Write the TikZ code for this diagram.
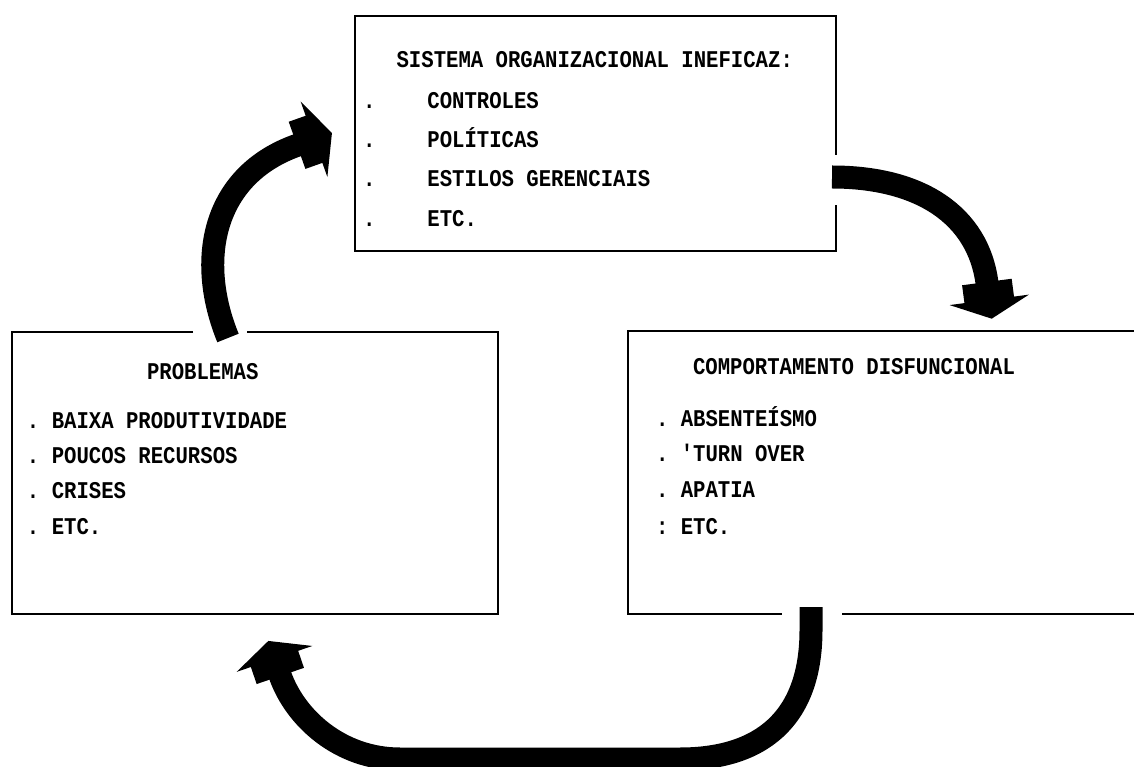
\documentclass[tikz,border=0pt]{standalone}
\usepackage{fontspec}
\setmonofont{Liberation Mono}[FakeStretch=0.86]
\usetikzlibrary{calc}
\tikzset{
  panel/.style={inner sep=0pt, outer sep=0pt, draw=none, rectangle},
  frame/.style={line width=1.6pt, black},
  txt/.style={anchor=base west, inner sep=0pt, outer sep=0pt,
    font=\ttfamily\bfseries\fontsize{24}{24}\selectfont},
  shaft/.style={line width=23pt, black, line cap=butt},
  pics/bighead/.style={code={
    \fill[black] (-1,25) -- (17,25) -- (17,40) -- (36,0) -- (17,-40) -- (17,-25) -- (-1,-25) -- cycle;
  }}
}
\newcommand{\gapsp}{\hspace{52pt}}
\begin{document}
\begin{tikzpicture}[x=1pt,y=1pt]
\useasboundingbox (0,0) rectangle (1134,766);
% boxes
\node[panel, minimum width=481pt, minimum height=235pt] (sys) at (595.5,632.5) {};
\node[panel, minimum width=486pt, minimum height=282pt] (prob) at (255,293) {};
\node[panel, minimum width=532pt, minimum height=283pt] (comp) at (894,293.5) {};
% frames with gaps
\draw[frame] (836,611) -- (sys.north east) -- (sys.north west) -- (sys.south west) -- (sys.south east) -- (836,561);
\draw[frame] (193,434) -- (prob.north west) -- (prob.south west) -- (prob.south east) -- (prob.north east) -- (247,434);
\draw[frame] (comp.north east) -- (comp.north west) -- (comp.south west) -- (782,152);
\draw[frame] (842,152) -- (comp.south east);
% texts: top box
\node[txt] (t0) at (396.6,698) {SISTEMA ORGANIZACIONAL INEFICAZ:};
\node[txt] (t1) at (363,657) {.\gapsp CONTROLES};
\node[txt] (t2) at (363,618) {.\gapsp POLÍTICAS};
\node[txt] (t3) at (363,579) {.\gapsp ESTILOS GERENCIAIS};
\node[txt] (t4) at (363,539) {.\gapsp ETC.};
% left box
\node[txt] (p0) at (147,386.5) {PROBLEMAS};
\node[txt] (p1) at (27,337) {. BAIXA PRODUTIVIDADE};
\node[txt] (p2) at (27,302) {. POUCOS RECURSOS};
\node[txt] (p3) at (27,267) {. CRISES};
\node[txt] (p4) at (27,232) {. ETC.};
% right box
\node[txt] (c0) at (693,391) {COMPORTAMENTO DISFUNCIONAL};
\node[txt] (c1) at (656,339) {. ABSENTEÍSMO};
\node[txt] (c2) at (656,304) {. 'TURN OVER};
\node[txt] (c3) at (656,269) {. APATIA};
\node[txt] (c4) at (656,232) {: ETC.};
% arrow ends
\coordinate (a1s) at (832,589);
\coordinate (a1e) at (987,483);
\coordinate (a2s) at (228,428);
\coordinate (a2e) at (298,621);
\coordinate (a3s) at (811,159);
\coordinate (a3e) at (280,91);
% arrows
\draw[shaft] (a1s) .. controls (920,589) and (978,551) .. (a1e);
\pic[rotate=-82.5] at (a1e) {bighead};
\draw[shaft] (a2s) .. controls (196,506) and (212,591) .. (a2e);
\pic[rotate=19.5] at (a2e) {bighead};
\draw[shaft] (a3s) -- (811,136) .. controls (811,46) and (760,7) .. (680,7) -- (400,7) .. controls (340,7) and (295,48) .. (a3e);
\pic[rotate=108.9] at (a3e) {bighead};
\end{tikzpicture}
\end{document}
